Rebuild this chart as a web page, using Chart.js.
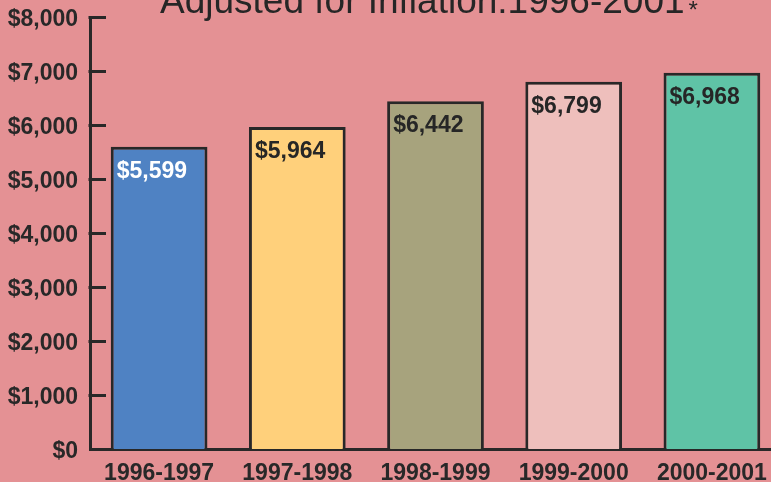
<!DOCTYPE html>
<html>
<head>
<meta charset="utf-8">
<script src="https://cdn.jsdelivr.net/npm/chart.js@4"></script>
<style>
  html, body { margin:0; padding:0; width:771px; height:482px; overflow:hidden; background:#e49194; }
  #wrap { position:absolute; left:0; top:-20px; width:781px; height:502px; }
</style>
</head>
<body>
<div id="wrap"><canvas id="c" width="781" height="502"></canvas></div>
<script>
const categories = ['1996-1997', '1997-1998', '1998-1999', '1999-2000', '2000-2001'];
const values = [5599, 5964, 6442, 6799, 6968];
const yTickValues = [0, 1000, 2000, 3000, 4000, 5000, 6000, 7000, 8000];
const titleText = 'Adjusted for Inflation:1996-2001';
const titleMark = '*';

const barColors = ['#4f82c3', '#ffd07b', '#a7a37d', '#eebfbc', '#5fc3a6'];
const labelColors = ['#ffffff', '#262626', '#262626', '#262626', '#262626'];
const ink = '#282828';
const fmt = v => '$' + v.toLocaleString('en-US');

const titlePlugin = {
  id: 'topTitle',
  afterDraw(chart) {
    const ctx = chart.ctx;
    ctx.save();
    ctx.font = '37px "Liberation Sans", Arial, sans-serif';
    ctx.fillStyle = '#262626';
    ctx.textAlign = 'left';
    ctx.textBaseline = 'alphabetic';
    ctx.fillText(titleText, 160, 33);
    const w = ctx.measureText(titleText).width;
    ctx.font = '24px "Liberation Sans", Arial, sans-serif';
    ctx.fillText(titleMark, 160 + w + 4, 38);
    ctx.restore();
  }
};

const innerTicks = {
  id: 'innerTicks',
  afterDraw(chart) {
    const ctx = chart.ctx, y = chart.scales.y, left = chart.chartArea.left;
    ctx.save();
    ctx.strokeStyle = ink;
    ctx.lineWidth = 3;
    yTickValues.forEach(v => {
      if (v === 0) return;
      const py = Math.round(y.getPixelForValue(v)) + 0.5;
      ctx.beginPath();
      ctx.moveTo(left - 1.5, py);
      ctx.lineTo(left + 16, py);
      ctx.stroke();
    });
    ctx.restore();
  }
};

const barLabels = {
  id: 'barLabels',
  afterDatasetsDraw(chart) {
    const ctx = chart.ctx;
    const meta = chart.getDatasetMeta(0);
    ctx.save();
    ctx.font = 'bold 23px "Liberation Sans", Arial, sans-serif';
    ctx.textAlign = 'left';
    ctx.textBaseline = 'alphabetic';
    meta.data.forEach((bar, i) => {
      ctx.fillStyle = labelColors[i];
      ctx.fillText(fmt(values[i]), bar.x - bar.width / 2 + 6, bar.y + 31);
    });
    ctx.restore();
  }
};

new Chart(document.getElementById('c'), {
  type: 'bar',
  data: {
    labels: categories,
    datasets: [{
      data: values,
      backgroundColor: barColors,
      borderColor: ink,
      borderWidth: 3,
      barPercentage: 0.7,
      categoryPercentage: 1.0
    }]
  },
  options: {
    responsive: false,
    devicePixelRatio: 1,
    animation: false,
    layout: { padding: { top: 37, left: 0, right: 0, bottom: 0 } },
    plugins: { legend: { display: false }, tooltip: { enabled: false }, title: { display: false } },
    scales: {
      x: {
        grid: { display: false, drawTicks: false },
        border: { display: true, color: ink, width: 3 },
        ticks: { color: ink, padding: 11, font: { family: '"Liberation Sans", Arial, sans-serif', size: 23, weight: 'bold' }, maxRotation: 0 },
        afterFit: s => { s.height = 33; }
      },
      y: {
        min: 0, max: 8000,
        grid: { display: false, drawTicks: false },
        border: { display: true, color: ink, width: 3 },
        afterBuildTicks: s => { s.ticks = yTickValues.map(v => ({ value: v })); },
        ticks: { color: ink, padding: 12, labelOffset: 3, callback: v => fmt(v), font: { family: '"Liberation Sans", Arial, sans-serif', size: 23, weight: 'bold' } },
        afterFit: s => { s.width = 90; }
      }
    }
  },
  plugins: [titlePlugin, innerTicks, barLabels]
});
</script>
</body>
</html>
